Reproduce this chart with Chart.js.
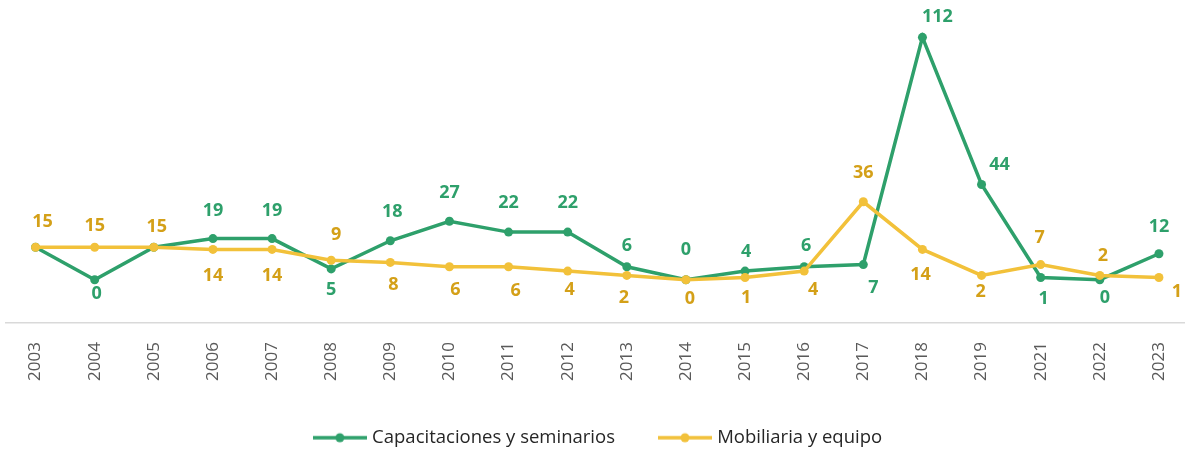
<!DOCTYPE html>
<html>
<head>
<meta charset="utf-8">
<script src="https://cdn.jsdelivr.net/npm/chart.js@4/dist/chart.umd.min.js"></script>
<style>
  html, body { margin: 0; padding: 0; background: #fff; overflow: hidden; }
  #chart { display: block; }
</style>
</head>
<body>
<canvas id="chart" width="1193" height="453"></canvas>
<script>
// years (2020 is not in the source)
const years = ['2003', '2004', '2005', '2006', '2007', '2008', '2009', '2010', '2011', '2012',
  '2013', '2014', '2015', '2016', '2017', '2018', '2019', '2021', '2022', '2023'];

const capacitaciones = [15, 0, 15, 19, 19, 5, 18, 27, 22, 22, 6, 0, 4, 6, 7, 112, 44, 1, 0, 12];
const mobiliaria = [15, 15, 15, 14, 14, 9, 8, 6, 6, 4, 2, 0, 1, 4, 36, 14, 2, 7, 2, 1];

const seriesNames = ['Capacitaciones y seminarios', 'Mobiliaria y equipo'];

// where each value label sits relative to its point [dx, dy], null = not shown
const greenLabelOffsets = [
  null, [2, 14], null, [0, -28], [0, -28], [0, 21], [2, -29], [0, -28], [0, -29], [0, -29],
  [0, -21], [0, -30], [1, -19], [2, -21], [10, 23], [15, -20], [18, -20], [3, 21], [5, 18], [0, -27]
];
const yellowLabelOffsets = [
  [7, -25], [0, -21], [3, -20], [0, 26], [0, 26], [5, -25], [3, 22], [6, 23], [7, 24], [2, 19],
  [-3, 22], [4, 19], [1, 20], [9, 19], [0, -29], [-2, 25], [-1, 16], [-1, -27], [3, -20], [18, 14]
];

const GREEN = '#2ea06b';
const YELLOW = '#f2c13a';
const YELLOW_TEXT = '#d4a018';
const FONT = "'Open Sans', 'Noto Sans', sans-serif";

function legendMarker(color) {
  const c = document.createElement('canvas');
  c.width = 54;
  c.height = 12;
  const g = c.getContext('2d');
  g.strokeStyle = color;
  g.lineWidth = 3.5;
  g.beginPath();
  g.moveTo(0, 6);
  g.lineTo(54, 6);
  g.stroke();
  g.fillStyle = color;
  g.beginPath();
  g.arc(27, 6, 4.5, 0, Math.PI * 2);
  g.fill();
  return c;
}

const valueLabels = {
  id: 'valueLabels',
  afterDatasetsDraw(chart) {
    const ctx = chart.ctx;
    ctx.save();
    ctx.font = "bold 18px " + FONT;
    ctx.textAlign = 'center';
    ctx.textBaseline = 'middle';
    chart.data.datasets.forEach((ds, di) => {
      const meta = chart.getDatasetMeta(di);
      meta.data.forEach((pt, i) => {
        const off = ds.labelOffsets[i];
        if (!off) return;
        ctx.fillStyle = ds.labelColor;
        ctx.fillText(String(ds.data[i]), pt.x + off[0], pt.y + off[1]);
      });
    });
    ctx.restore();
  }
};

const markers = [legendMarker(YELLOW), legendMarker(GREEN)];

new Chart(document.getElementById('chart'), {
  type: 'line',
  data: {
    labels: years,
    datasets: [
      {
        label: seriesNames[1],
        data: mobiliaria,
        borderColor: YELLOW,
        backgroundColor: YELLOW,
        borderWidth: 3.5,
        pointRadius: 4.5,
        pointBorderWidth: 0,
        tension: 0,
        labelColor: YELLOW_TEXT,
        labelOffsets: yellowLabelOffsets
      },
      {
        label: seriesNames[0],
        data: capacitaciones,
        borderColor: GREEN,
        backgroundColor: GREEN,
        borderWidth: 3.5,
        pointRadius: 4.5,
        pointBorderWidth: 0,
        tension: 0,
        labelColor: GREEN,
        labelOffsets: greenLabelOffsets
      }
    ]
  },
  options: {
    responsive: false,
    animation: false,
    layout: {
      padding: { top: 20, left: 6, right: 0, bottom: -4 }
    },
    plugins: {
      tooltip: { enabled: false },
      legend: {
        position: 'bottom',
        reverse: true,
        labels: {
          usePointStyle: true,
          pointStyleWidth: 46,
          padding: 47,
          color: '#262626',
          font: { family: FONT, size: 18.5 },
          generateLabels(chart) {
            const items = Chart.defaults.plugins.legend.labels.generateLabels(chart);
            items.forEach(it => { it.pointStyle = markers[it.datasetIndex]; });
            return items;
          }
        }
      }
    },
    scales: {
      x: {
        offset: true,
        grid: { display: false },
        border: { display: true, color: '#d9d9d9', width: 1.5 },
        ticks: {
          minRotation: 90,
          maxRotation: 90,
          padding: 11,
          color: '#595959',
          font: { family: FONT, size: 17 }
        },
        afterFit(scale) {
          scale.height = 58.5;
          scale.paddingLeft = 0;
          scale.paddingRight = 0;
        }
      },
      y: {
        display: false,
        min: -20,
        max: 120
      }
    }
  },
  plugins: [valueLabels]
});
</script>
</body>
</html>
